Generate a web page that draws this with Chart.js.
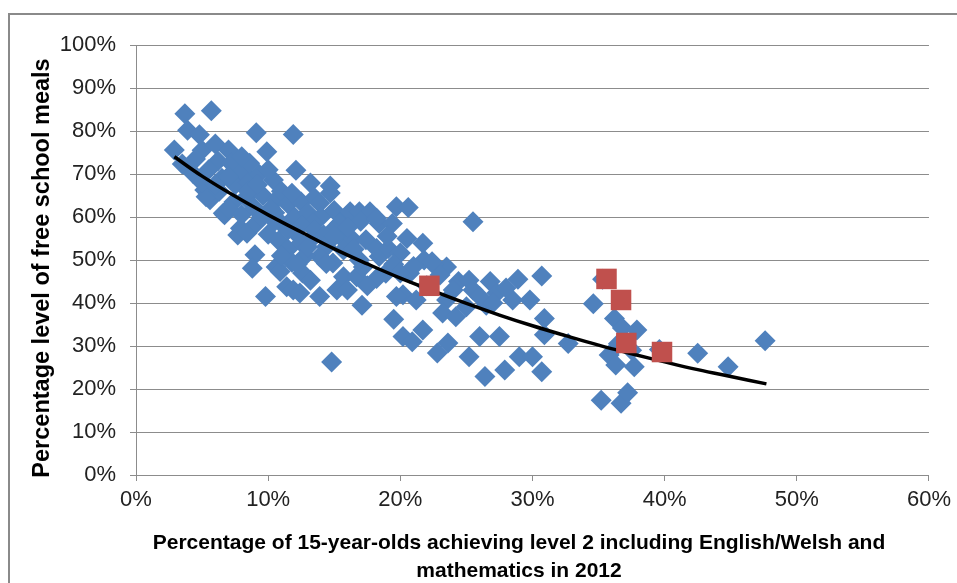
<!DOCTYPE html>
<html>
<head>
<meta charset="utf-8">
<script src="https://cdn.jsdelivr.net/npm/chart.js@4.4.0/dist/chart.umd.min.js"></script>
<style>
    html, body { margin: 0; padding: 0; background: #fff; overflow: hidden; }
    #wrap { position: relative; width: 957px; height: 583px; }
    #frame { position: absolute; left: 8px; top: 13px; width: 1000px; height: 700px;
             border-left: 2px solid #8a8a8a; border-top: 2px solid #8a8a8a; pointer-events: none; }
    canvas { position: absolute; left: 0; top: 0; }
</style>
</head>
<body>
<div id="wrap">
    <canvas id="myChart" width="957" height="583"></canvas>
    <div id="frame"></div>
</div>
<script>
// datos (porcentajes)
const blueX = [3.7, 5.7, 9.1, 11.9, 2.9, 3.9, 4.8, 9.9, 7.0, 3.5, 4.3, 5.2, 5.6, 6.7, 7.9, 7.7, 8.4, 9.0, 8.8, 9.8,
    6.6, 5.3, 9.1, 6.2, 7.2, 8.0, 5.5, 6.5, 7.5, 8.5, 9.3, 5.0, 6.0, 4.5, 6.3, 7.4, 8.3, 7.0, 8.0, 9.0,
    9.6, 10.4, 8.6, 10.6, 12.1, 13.2, 14.7, 11.0, 11.5, 12.5, 13.5, 10.0, 13.9, 14.7, 10.5, 11.0, 12.0, 13.0, 14.0, 15.0,
    15.9, 16.2, 16.9, 17.7, 17.0, 18.4, 15.4, 13.4, 14.9, 12.0, 10.0, 10.8, 11.5, 12.5, 13.5, 14.4, 15.7, 16.4, 17.4, 15.7,
    13.9, 14.9, 12.8, 11.8, 10.6, 10.9, 12.6, 13.2, 11.4, 11.9, 12.4, 13.9, 15.2, 15.7, 16.7, 17.2, 16.9, 14.4, 18.4, 18.9,
    18.2, 18.2, 19.1, 17.1, 14.8, 19.5, 19.7, 20.6, 19.4, 18.2, 20.0, 21.7, 21.8, 20.7, 20.2, 21.2, 19.7, 23.5, 23.5, 23.2,
    24.2, 24.4, 25.2, 25.5, 25.0, 26.5, 26.8, 27.3, 28.5, 29.8, 28.9, 30.7, 30.9, 30.9, 32.7, 25.5, 20.2, 21.7, 20.9, 22.8,
    23.6, 25.2, 26.0, 26.4, 27.5, 27.9, 29.0, 30.0, 30.7, 34.6, 36.2, 36.8, 37.9, 35.8, 36.3, 37.7, 35.2, 36.7, 37.2, 42.5,
    44.8, 47.6, 35.3, 36.5, 37.5, 39.6, 22.0, 19.0, 20.5, 22.5, 23.0, 21.0, 19.5, 20.0, 24.0, 26.0, 27.0, 28.0, 10.5, 11.5,
    12.5, 13.5, 11.0, 12.2, 13.0, 14.2, 15.0, 16.0, 16.5, 9.5, 10.2, 11.8, 5.0, 6.0, 7.0, 8.5, 9.2, 8.0, 22.4, 17.5, 16.0];
const blueY = [84.0, 84.7, 79.6, 79.2, 75.6, 80.2, 79.1, 75.2, 75.6, 72.3, 70.2, 66.3, 64.0, 60.5, 57.4, 55.8, 56.2, 51.2, 48.1, 41.5,
    60.9, 64.7, 58.5, 73.0, 72.5, 70.5, 71.0, 69.0, 67.5, 68.0, 70.0, 75.5, 77.0, 73.5, 66.0, 63.5, 64.5, 62.0, 60.5, 62.0,
    65.0, 68.6, 72.5, 64.0, 70.9, 67.9, 67.2, 66.0, 63.0, 63.5, 64.5, 71.0, 63.2, 65.6, 61.0, 58.5, 60.0, 61.0, 60.0, 61.5,
    60.1, 61.2, 61.2, 61.2, 59.0, 58.5, 58.5, 58.6, 57.0, 56.5, 56.0, 54.5, 52.5, 54.0, 55.5, 53.1, 54.7, 54.7, 54.7, 52.3,
    50.8, 49.3, 51.0, 49.5, 48.4, 47.3, 47.0, 45.3, 43.8, 43.0, 42.3, 41.5, 43.0, 46.1, 46.1, 48.4, 50.0, 49.2, 50.8, 46.9,
    45.7, 52.7, 52.7, 39.5, 26.3, 36.2, 62.4, 62.2, 58.5, 59.7, 51.6, 53.9, 50.0, 46.9, 41.9, 40.7, 41.5, 48.4, 40.7, 37.7,
    36.8, 45.0, 45.3, 43.0, 39.1, 39.5, 45.0, 42.3, 40.7, 40.7, 45.5, 46.3, 36.4, 32.6, 30.6, 58.9, 32.2, 33.7, 31.0, 28.4,
    30.7, 27.5, 32.2, 22.9, 32.2, 24.4, 27.5, 27.5, 24.0, 39.8, 36.4, 34.2, 33.7, 27.9, 25.6, 25.2, 17.4, 16.7, 19.1, 28.3,
    25.2, 31.2, 45.5, 30.5, 29.0, 29.2, 44.0, 55.5, 55.0, 49.0, 46.5, 48.5, 49.0, 47.0, 43.0, 41.5, 40.0, 43.5, 59.0, 57.0,
    58.0, 57.0, 51.0, 49.0, 53.0, 55.8, 55.5, 57.5, 52.5, 60.0, 62.0, 65.5, 68.0, 67.5, 69.5, 66.0, 67.5, 74.0, 49.6, 44.0, 43.0];

const redX = [22.2, 35.6, 36.7, 37.1, 39.8];
const redY = [44.0, 45.6, 40.7, 30.7, 28.6];

// linea de tendencia
const trendX = [2.9, 5, 7.5, 10, 12.5, 15, 17.5, 20, 22.5, 25, 27.5, 30, 32.5, 35, 37.5, 40, 42.5, 45, 47.7];
const trendY = [74.0, 69.5, 64.8, 60.5, 56.5, 52.6, 49.1, 45.8, 42.8, 39.9, 37.2, 34.7, 32.4, 30.2, 28.2, 26.3, 24.5, 22.9, 21.2];

const xTicks = [0, 10, 20, 30, 40, 50, 60];
const yTicks = [0, 10, 20, 30, 40, 50, 60, 70, 80, 90, 100];

const xTitle = ['Percentage of 15-year-olds achieving level 2 including English/Welsh and', 'mathematics in 2012'];
const yTitle = 'Percentage level of free school meals';

const toPoints = (xs, ys) => xs.map((x, i) => ({ x: x, y: ys[i] }));

const tickFont = { family: '"Liberation Sans", Arial, sans-serif', size: 22 };
const gridColor = '#8c8c8c';

// titulos de los ejes
const axisTitles = {
    id: 'axisTitles',
    afterDraw(chart) {
        const ctx = chart.ctx;
        ctx.save();
        ctx.fillStyle = '#000';
        ctx.textAlign = 'center';
        ctx.textBaseline = 'middle';
        ctx.font = 'bold 21px "Liberation Sans", Arial, sans-serif';
        ctx.fillText(xTitle[0], 519, 543);
        ctx.fillText(xTitle[1], 519, 571);
        ctx.translate(43, 268);
        ctx.rotate(-Math.PI / 2);
        ctx.font = 'bold 23.5px "Liberation Sans", Arial, sans-serif';
        ctx.fillText(yTitle, 0, 0);
        ctx.restore();
    }
};

let mychart = document.getElementById('myChart').getContext('2d');

var chart = new Chart(mychart, {
    type: 'scatter',
    data: {
        datasets: [{
            label: 'Red',
            data: toPoints(redX, redY),
            pointStyle: 'rect',
            pointRadius: 14.5,
            pointHoverRadius: 14.5,
            backgroundColor: '#C0504D',
            borderWidth: 0,
            order: 0
        }, {
            label: 'Trend',
            type: 'line',
            data: toPoints(trendX, trendY),
            borderColor: '#000',
            borderWidth: 3.5,
            pointRadius: 0,
            tension: 0.4,
            fill: false,
            order: 1
        }, {
            label: 'Blue',
            data: toPoints(blueX, blueY),
            pointStyle: 'rectRot',
            pointRadius: 10.5,
            pointHoverRadius: 10.5,
            backgroundColor: '#4F81BD',
            borderWidth: 0,
            order: 2
        }]
    },
    options: {
        responsive: false,
        animation: false,
        devicePixelRatio: 1,
        layout: { padding: { left: 0, right: 28, top: 45, bottom: 0 } },
        scales: {
            x: {
                type: 'linear',
                min: 0,
                max: 60,
                afterBuildTicks: s => { s.ticks = xTicks.map(v => ({ value: v })); },
                afterFit: s => { s.height = 108; },
                ticks: { callback: v => v + '%', font: tickFont, color: '#222', padding: 6, maxRotation: 0 },
                grid: { drawOnChartArea: false, drawTicks: true, tickLength: 6, color: gridColor },
                border: { color: gridColor, width: 1 }
            },
            y: {
                min: 0,
                max: 100,
                afterBuildTicks: s => { s.ticks = yTicks.map(v => ({ value: v })); },
                afterFit: s => { s.width = 136; },
                ticks: { callback: v => v + '%', font: tickFont, color: '#222', padding: 14 },
                grid: { color: gridColor, tickLength: 6 },
                border: { color: gridColor, width: 1 }
            }
        },
        plugins: {
            legend: { display: false },
            tooltip: { enabled: false }
        }
    },
    plugins: [axisTitles]
});
</script>
</body>
</html>
